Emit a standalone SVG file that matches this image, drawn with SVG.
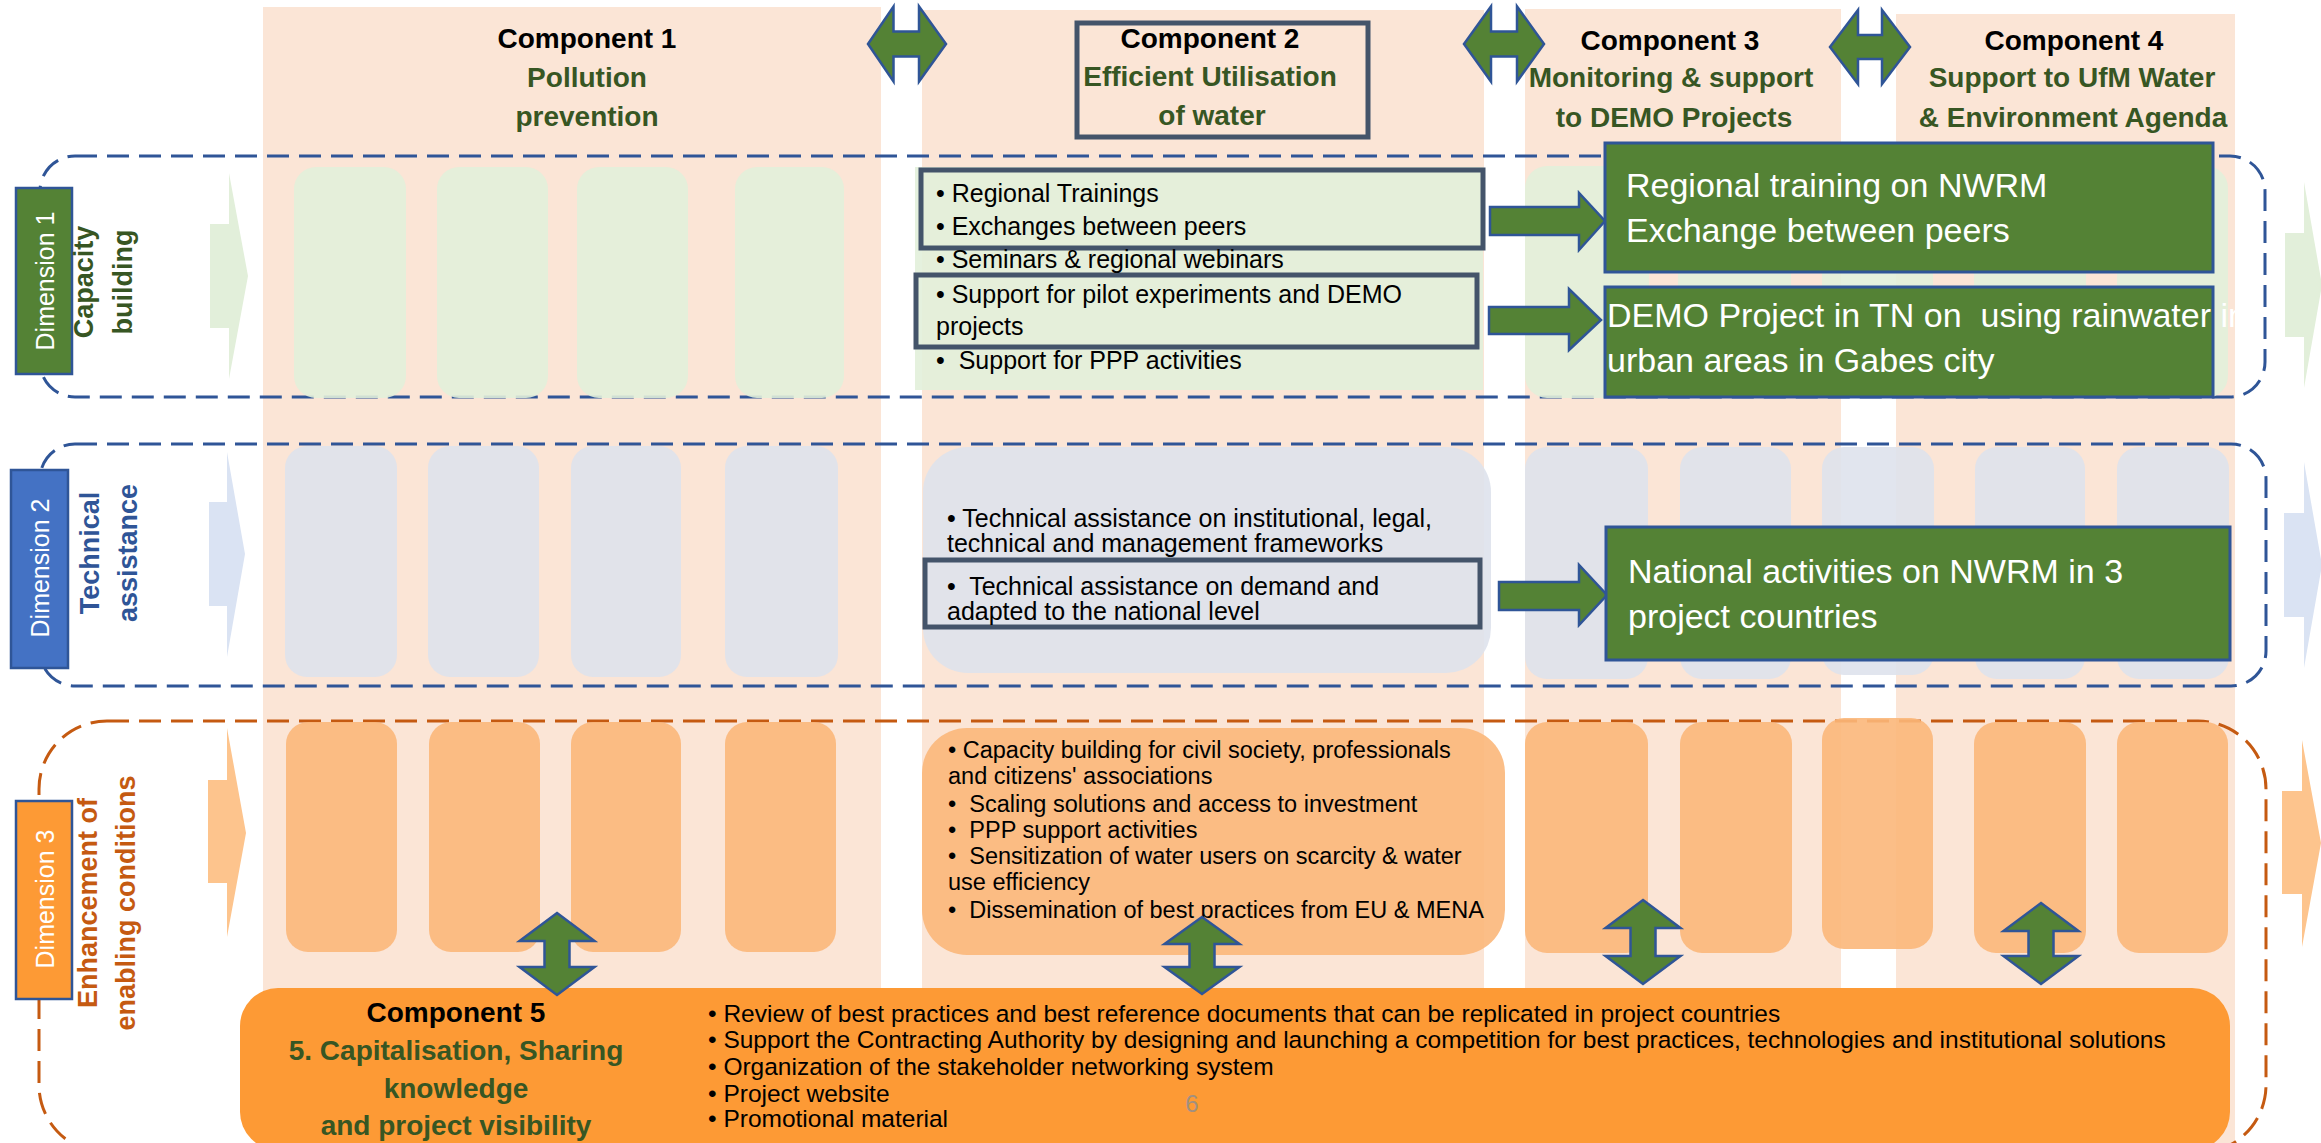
<svg xmlns="http://www.w3.org/2000/svg" width="2321" height="1143" viewBox="0 0 2321 1143">
<style>
text{font-family:"Liberation Sans",Arial,sans-serif;}
.colbg{fill:#FBE5D6;}
.g1{fill:#E2EFDA;fill-opacity:0.9;}
.g2{fill:#DEE2EC;fill-opacity:0.9;}
.g3{fill:#FBB77A;fill-opacity:0.9;}
.dashB{fill:none;stroke:#2F5597;stroke-width:3;stroke-dasharray:22 10;}
.dashO{fill:none;stroke:#C55A11;stroke-width:3;stroke-dasharray:22 10;}
.arr{fill:#548235;stroke:#2F5597;stroke-width:2.5;stroke-linejoin:miter;}
.slate{fill:none;stroke:#44546A;stroke-width:5;}
.gbox{fill:#548235;stroke:#2F5597;stroke-width:3;}
.ttl{font-weight:bold;font-size:28px;text-anchor:middle;fill:#000;}
.sub{font-weight:bold;font-size:28px;text-anchor:middle;fill:#375623;}
.dimlab{font-size:25px;fill:#FFFFFF;text-anchor:middle;}
.dimname{font-weight:bold;font-size:27px;text-anchor:middle;}
.body25{font-size:25px;fill:#000;}
.body235{font-size:23.5px;fill:#000;}
.body245{font-size:24.5px;fill:#000;}
.wtxt{font-size:34px;fill:#FFFFFF;white-space:pre;}
</style>

<g id="columns">
<rect class="colbg" x="263" y="7" width="618" height="1136"/>
<rect class="colbg" x="922" y="10" width="562" height="1133"/>
<rect class="colbg" x="1525" y="9" width="316" height="1134"/>
<rect class="colbg" x="1896" y="14" width="339" height="1129"/>
</g>

<g id="dimension-frames">
<rect class="dashB" x="40" y="156" width="2225" height="241" rx="35"/>
<rect class="dashB" x="40" y="444" width="2226" height="242" rx="35"/>
<rect class="dashO" x="39" y="721" width="2227" height="432" rx="68"/>
</g>

<g id="pentagons">
<path d="M210,224 H229 V173 L248,276 L229,379 V328 H210 Z" fill="#E2EFDA"/>
<path d="M209,502 H227 V452 L245,554 L227,657 V606 H209 Z" fill="#DAE3F3"/>
<path d="M208,780 H227 V728 L246,833 L227,937 V883 H208 Z" fill="#FDC48D"/>
<path d="M2285,233 H2304 V182 L2322,285 L2304,388 V337 H2285 Z" fill="#E2EFDA"/>
<path d="M2284,513 H2304 V462 L2322,565 L2304,668 V617 H2284 Z" fill="#DAE3F3"/>
<path d="M2282,791 H2302 V740 L2321,843 L2302,947 V894 H2282 Z" fill="#FDC48D"/>
</g>

<g id="dim1-cells">
<rect class="g1" x="294" y="167" width="112" height="231" rx="22"/>
<rect class="g1" x="437" y="167" width="111" height="231" rx="22"/>
<rect class="g1" x="577" y="167" width="111" height="231" rx="22"/>
<rect class="g1" x="735" y="167" width="109" height="231" rx="22"/>
<rect class="g1" x="915" y="167" width="568" height="223"/>
<rect class="g1" x="1525" y="166" width="124" height="232" rx="22"/>
<rect class="g1" x="1678" y="166" width="113" height="232" rx="22"/>
<rect class="g1" x="1822" y="166" width="111" height="232" rx="22" fill-opacity="0.7"/>
<rect class="g1" x="1974" y="166" width="112" height="232" rx="22"/>
<rect class="g1" x="2117" y="166" width="111" height="232" rx="22"/>
</g>

<g id="dim2-cells">
<rect class="g2" x="285" y="446" width="112" height="231" rx="22"/>
<rect class="g2" x="428" y="446" width="111" height="231" rx="22"/>
<rect class="g2" x="571" y="446" width="110" height="231" rx="22"/>
<rect class="g2" x="725" y="446" width="113" height="231" rx="22"/>
<rect class="g2" x="923" y="447" width="568" height="226" rx="45"/>
<rect class="g2" x="1525" y="447" width="123" height="232" rx="22"/>
<rect class="g2" x="1680" y="447" width="111" height="232" rx="22"/>
<rect class="g2" x="1822" y="447" width="112" height="228" rx="22" fill-opacity="0.7"/>
<rect class="g2" x="1975" y="447" width="110" height="232" rx="22"/>
<rect class="g2" x="2117" y="447" width="112" height="232" rx="22"/>
</g>

<g id="dim3-cells">
<rect class="g3" x="286" y="722" width="111" height="230" rx="22"/>
<rect class="g3" x="429" y="722" width="111" height="230" rx="22"/>
<rect class="g3" x="571" y="722" width="110" height="230" rx="22"/>
<rect class="g3" x="725" y="722" width="111" height="230" rx="22"/>
<rect class="g3" x="922" y="728" width="583" height="227" rx="45"/>
<rect class="g3" x="1525" y="722" width="123" height="231" rx="22"/>
<rect class="g3" x="1680" y="722" width="112" height="231" rx="22"/>
<rect class="g3" x="1822" y="718" width="111" height="231" rx="22" fill-opacity="0.75"/>
<rect class="g3" x="1974" y="722" width="112" height="231" rx="22"/>
<rect class="g3" x="2117" y="722" width="111" height="231" rx="22"/>
</g>

<g id="component1-title">
<text class="ttl" x="587" y="48">Component 1</text>
<text class="sub" x="587" y="87">Pollution</text>
<text class="sub" x="587" y="126">prevention</text>
</g>

<g id="component2-title">
<rect class="slate" x="1077" y="23" width="291" height="114"/>
<text class="ttl" x="1210" y="48">Component 2</text>
<text class="sub" x="1210" y="86">Efficient Utilisation</text>
<text class="sub" x="1212" y="125">of water</text>
</g>

<g id="component3-title">
<text class="ttl" x="1670" y="50">Component 3</text>
<text class="sub" x="1671" y="87">Monitoring &amp; support</text>
<text class="sub" x="1674" y="127">to DEMO Projects</text>
</g>

<g id="component4-title">
<text class="ttl" x="2074" y="50">Component 4</text>
<text class="sub" x="2072" y="87">Support to UfM Water</text>
<text class="sub" x="2073" y="127">&amp; Environment Agenda</text>
</g>

<g id="dimension1-label">
<rect x="16" y="188" width="56" height="186" fill="#548235" stroke="#2F5597" stroke-width="2.5"/>
<text class="dimlab" transform="translate(54,281) rotate(-90)">Dimension 1</text>
<text class="dimname" fill="#375623" transform="translate(93,282) rotate(-90)">Capacity</text>
<text class="dimname" fill="#375623" transform="translate(132,282) rotate(-90)">building</text>
</g>

<g id="dimension2-label">
<rect x="11" y="470" width="57" height="198" fill="#4472C4" stroke="#2F5597" stroke-width="2.5"/>
<text class="dimlab" transform="translate(49,568) rotate(-90)">Dimension 2</text>
<text class="dimname" fill="#2F5597" transform="translate(99,553) rotate(-90)">Technical</text>
<text class="dimname" fill="#2F5597" transform="translate(137,553) rotate(-90)">assistance</text>
</g>

<g id="dimension3-label">
<rect x="16" y="801" width="56" height="198" fill="#FD9A35" stroke="#2F5597" stroke-width="2.5"/>
<text class="dimlab" transform="translate(54,899) rotate(-90)">Dimension 3</text>
<text class="dimname" fill="#C55A11" transform="translate(97,903) rotate(-90)">Enhancement of</text>
<text class="dimname" fill="#C55A11" transform="translate(135,903) rotate(-90)">enabling conditions</text>
</g>

<g id="dim1-component2-activities">
<rect class="slate" x="921" y="170" width="562" height="78"/>
<rect class="slate" x="916" y="275" width="561" height="72"/>
<text class="body25" x="936" y="202">• Regional Trainings</text>
<text class="body25" x="936" y="235">• Exchanges between peers</text>
<text class="body25" x="936" y="268">• Seminars &amp; regional webinars</text>
<text class="body25" x="936" y="303">• Support for pilot experiments and DEMO</text>
<text class="body25" x="936" y="335">projects</text>
<text class="body25" x="936" y="369" style="white-space:pre">•  Support for PPP activities</text>
</g>

<g id="dim2-component2-activities">
<rect class="slate" x="925" y="560" width="555" height="67"/>
<text class="body25" x="947" y="527">• Technical assistance on institutional, legal,</text>
<text class="body25" x="947" y="552">technical and management frameworks</text>
<text class="body25" x="947" y="595" style="white-space:pre">•  Technical assistance on demand and</text>
<text class="body25" x="947" y="620">adapted to the national level</text>
</g>

<g id="dim3-component2-activities">
<text class="body235" x="948" y="758">• Capacity building for civil society, professionals</text>
<text class="body235" x="948" y="784">and citizens' associations</text>
<text class="body235" x="948" y="812" style="white-space:pre">•  Scaling solutions and access to investment</text>
<text class="body235" x="948" y="838" style="white-space:pre">•  PPP support activities</text>
<text class="body235" x="948" y="864" style="white-space:pre">•  Sensitization of water users on scarcity &amp; water</text>
<text class="body235" x="948" y="890">use efficiency</text>
<text class="body235" x="948" y="918" style="white-space:pre">•  Dissemination of best practices from EU &amp; MENA</text>
</g>

<g id="component5">
<rect x="240" y="988" width="1990" height="162" rx="38" fill="#FD9A35"/>
<text class="ttl" x="456" y="1022">Component 5</text>
<text class="sub" x="456" y="1060">5. Capitalisation, Sharing</text>
<text class="sub" x="456" y="1098">knowledge</text>
<text class="sub" x="456" y="1135">and project visibility</text>
<text class="body245" x="708" y="1022">• Review of best practices and best reference documents that can be replicated in project countries</text>
<text class="body245" x="708" y="1048">• Support the Contracting Authority by designing and launching a competition for best practices, technologies and institutional solutions</text>
<text class="body245" x="708" y="1075">• Organization of the stakeholder networking system</text>
<text class="body245" x="708" y="1102">• Project website</text>
<text class="body245" x="708" y="1127">• Promotional material</text>
<text x="1192" y="1112" font-size="24" fill="#A29080" text-anchor="middle">6</text>
</g>

<g id="connectors">
<path class="arr" d="M868,44 L893.5,6.5 V31.5 H919 V6.5 L946,44 L919,81.5 V56.5 H893.5 V81.5 Z"/>
<path class="arr" d="M1464,44 L1491,6.5 V31.5 H1517 V6.5 L1544,44 L1517,81.5 V56.5 H1491 V81.5 Z"/>
<path class="arr" d="M1830,47 L1858,10 V35 H1882 V10 L1910,47 L1882,84 V59 H1858 V84 Z"/>
<path class="arr" d="M1490,207 H1579 V193 L1605,221 L1579,250 V235 H1490 Z"/>
<path class="arr" d="M1489,307 H1569 V289 L1601,320 L1569,350 V334 H1489 Z"/>
<path class="arr" d="M1499,582 H1579 V565 L1607,595 L1579,625 V610 H1499 Z"/>
<path class="arr" d="M557,913 L594.5,941 H569.5 V967 H594.5 L557,995 L519.5,967 H544.5 V941 H519.5 Z"/>
<path class="arr" d="M1202,917 L1239.5,944 H1214.5 V967 H1239.5 L1202,994 L1164.5,967 H1189.5 V944 H1164.5 Z"/>
<path class="arr" d="M1643,900 L1680.5,928 H1655.5 V956 H1680.5 L1643,984 L1605.5,956 H1630.5 V928 H1605.5 Z"/>
<path class="arr" d="M2041,903 L2078.5,931 H2053.5 V956 H2078.5 L2041,984 L2003.5,956 H2028.5 V931 H2003.5 Z"/>
</g>

<g id="outcome-regional-training">
<rect class="gbox" x="1605" y="143" width="608" height="129"/>
<text class="wtxt" x="1626" y="197">Regional training on NWRM</text>
<text class="wtxt" x="1626" y="242">Exchange between peers</text>
</g>

<g id="outcome-demo-project">
<rect class="gbox" x="1605" y="287" width="608" height="110"/>
<text class="wtxt" x="1607" y="327">DEMO Project in TN on  using rainwater in</text>
<text class="wtxt" x="1607" y="372">urban areas in Gabes city</text>
</g>

<g id="outcome-national-activities">
<rect class="gbox" x="1606" y="527" width="624" height="133"/>
<text class="wtxt" x="1628" y="583">National activities on NWRM in 3</text>
<text class="wtxt" x="1628" y="628">project countries</text>
</g>
</svg>
